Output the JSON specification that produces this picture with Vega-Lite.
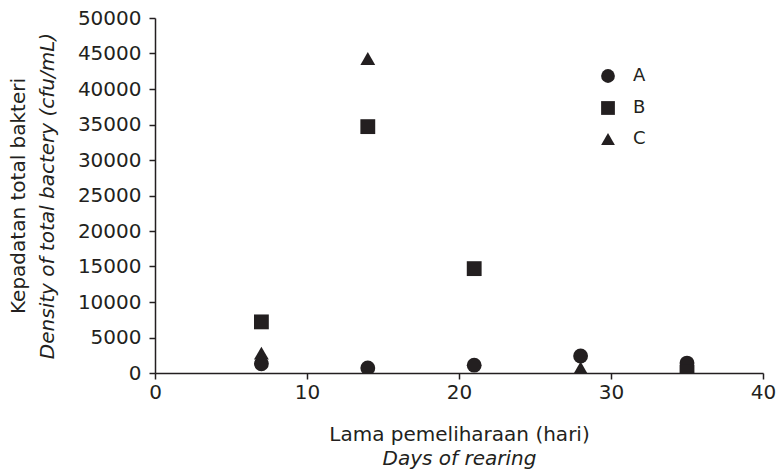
{
  "$schema": "https://vega.github.io/schema/vega-lite/v6.json",
  "autosize": "none",
  "width": 608,
  "height": 355,
  "padding": {"left": 155, "top": 18, "right": 13, "bottom": 102},
  "background": "white",
  "config": {
    "view": {"stroke": null},
    "font": "DejaVu Sans",
    "axis": {"grid": false, "domainColor": "#231f20", "tickColor": "#231f20", "labelColor": "#231f20", "titleColor": "#231f20", "domainWidth": 1.5, "tickWidth": 1.5, "labelFont": "DejaVu Sans", "titleFont": "DejaVu Sans", "labelFontSize": 20, "titleFontSize": 20, "titleFontWeight": "normal", "tickSize": 6, "labelFlush": false}
  },
  "data": {
    "values": [
      {"day": 7, "series": "A", "density": 1300},
      {"day": 14, "series": "A", "density": 700},
      {"day": 21, "series": "A", "density": 1100},
      {"day": 28, "series": "A", "density": 2400},
      {"day": 35, "series": "A", "density": 1400},
      {"day": 7, "series": "B", "density": 7200},
      {"day": 14, "series": "B", "density": 34700},
      {"day": 21, "series": "B", "density": 14700},
      {"day": 35, "series": "B", "density": 100},
      {"day": 7, "series": "C", "density": 2800},
      {"day": 14, "series": "C", "density": 44300},
      {"day": 28, "series": "C", "density": 700}
    ]
  },
  "layer": [
    {
      "mark": {"type": "point", "filled": true, "opacity": 1, "color": "#231f20", "size": 220, "clip": true},
      "encoding": {
        "x": {"field": "day", "type": "quantitative", "scale": {"domain": [0, 40]},
          "axis": {"values": [0, 10, 20, 30, 40], "title": "Lama pemeliharaan (hari)", "labelPadding": 3, "titlePadding": 22}},
        "y": {"field": "density", "type": "quantitative", "scale": {"domain": [0, 50000]},
          "axis": {"values": [0, 5000, 10000, 15000, 20000, 25000, 30000, 35000, 40000, 45000, 50000], "format": "d", "title": "Density of total bactery (cfu/mL)", "titleFontStyle": "italic", "labelPadding": 8, "titlePadding": 20}},
        "shape": {"field": "series", "type": "nominal",
          "scale": {"domain": ["A", "B", "C"], "range": ["circle", "square", "triangle-up"]},
          "legend": {"title": null, "orient": "none", "legendX": 444, "legendY": 49, "padding": 0, "symbolSize": 190, "symbolFillColor": "#231f20", "symbolStrokeColor": "#231f20", "labelFontSize": 18, "labelFont": "DejaVu Sans", "labelColor": "#231f20", "labelOffset": 16, "rowPadding": 12, "symbolType": "circle"}}
      }
    },
    {
      "mark": {"type": "point", "opacity": 0, "size": 10},
      "encoding": {
        "x": {"field": "day", "type": "quantitative",
          "axis": {"orient": "bottom", "labels": false, "ticks": false, "domain": false, "title": "Days of rearing", "titleFontStyle": "italic", "titlePadding": 75}},
        "y": {"field": "density", "type": "quantitative",
          "axis": {"orient": "left", "labels": false, "ticks": false, "domain": false, "title": "Kepadatan total bakteri", "titlePadding": 127}}
      }
    }
  ],
  "resolve": {"scale": {"x": "shared", "y": "shared"}, "axis": {"x": "independent", "y": "independent"}}
}
